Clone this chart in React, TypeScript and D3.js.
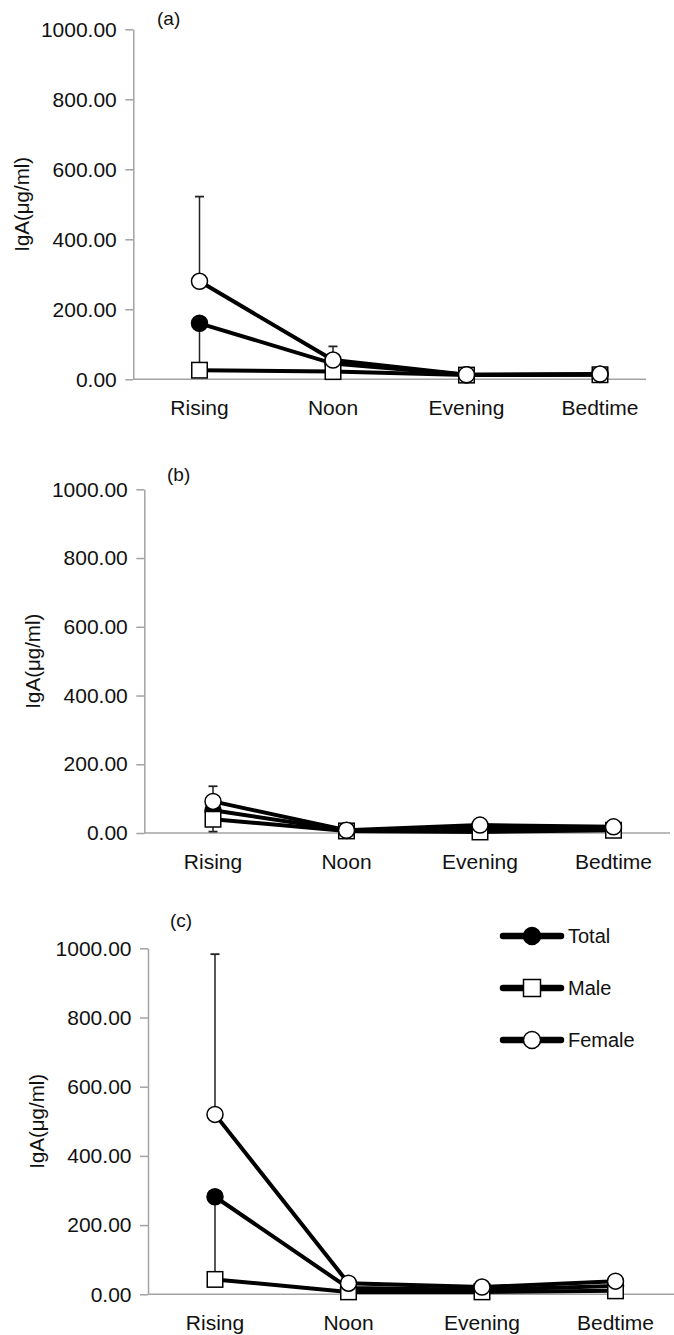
import * as React from "react";
import * as d3 from "d3";

const categories = ["Rising", "Noon", "Evening", "Bedtime"];
const yTicks = [0, 200, 400, 600, 800, 1000];
const seriesNames = ["Total", "Male", "Female"];

// panel (a)
const totalA = [160, 45, 13, 14];
const maleA = [26, 22, 12, 13];
const femaleA = [280, 55, 13, 15];
const errorsA: [string, number, number][] = [
  ["Rising", 280, 522],
  ["Rising", 26, 160],
  ["Noon", 55, 94],
];

// panel (b)
const totalB = [66, 7, 13, 13];
const maleB = [40, 6, 3, 8];
const femaleB = [92, 8, 23, 18];
const errorsB: [string, number, number][] = [
  ["Rising", 92, 136],
  ["Rising", 40, 4],
];

// panel (c)
const totalC = [282, 18, 13, 24];
const maleC = [43, 7, 7, 10];
const femaleC = [520, 32, 21, 38];
const errorsC: [string, number, number][] = [
  ["Rising", 520, 983],
  ["Rising", 43, 282],
];

const AXIS = "#a3a3a3";
const FONT = "Liberation Sans, Arial, sans-serif";

const panels = [
  { label: "(a)", series: [totalA, maleA, femaleA], errors: errorsA, axisX: 133.3, top: 29.3, bottom: 379.3, firstX: 199.5, axisEnd: 646, labelX: 157, labelY: 25, legend: false },
  { label: "(b)", series: [totalB, maleB, femaleB], errors: errorsB, axisX: 144.3, top: 489.3, bottom: 833, firstX: 213, axisEnd: 670, labelX: 167, labelY: 481, legend: false },
  { label: "(c)", series: [totalC, maleC, femaleC], errors: errorsC, axisX: 148, top: 948.3, bottom: 1294.3, firstX: 215, axisEnd: 674, labelX: 170, labelY: 927, legend: true },
];

function drawMarker(
  g: d3.Selection<SVGGElement, unknown, null, undefined>,
  name: string,
  cx: number,
  cy: number,
  big = false
) {
  if (name === "Male") {
    const s = big ? 17 : 15.5;
    g.append("rect")
      .attr("x", cx - s / 2)
      .attr("y", cy - s / 2)
      .attr("width", s)
      .attr("height", s)
      .attr("fill", "white")
      .attr("stroke", "black")
      .attr("stroke-width", 1.5);
  } else {
    g.append("circle")
      .attr("cx", cx)
      .attr("cy", cy)
      .attr("r", big ? 8.5 : 8)
      .attr("fill", name === "Total" ? "black" : "white")
      .attr("stroke", "black")
      .attr("stroke-width", 1.5);
  }
}

export default function App() {
  const ref = React.useRef<SVGSVGElement | null>(null);

  React.useEffect(() => {
    const svg = d3.select(ref.current);
    svg.selectAll("*").remove();

    panels.forEach((p) => {
      const step = 133.5;
      const x = d3
        .scalePoint<string>()
        .domain(categories)
        .range([p.firstX, p.firstX + step * (categories.length - 1)]);
      const y = d3.scaleLinear([0, 1000], [p.bottom, p.top]);

      const g = svg.append("g");

      // y axis
      const yAxis = d3
        .axisLeft(y)
        .tickValues(yTicks)
        .tickFormat(d3.format(".2f"))
        .tickSize(8)
        .tickSizeOuter(0)
        .tickPadding(8.5);
      const yg = g
        .append("g")
        .attr("transform", `translate(${p.axisX},0)`)
        .call(yAxis);
      yg.selectAll("path").attr("stroke", AXIS).attr("stroke-width", 1.5);
      yg.selectAll("line").attr("stroke", AXIS).attr("stroke-width", 1.5);
      yg.selectAll("text")
        .attr("fill", "#111")
        .style("font-family", FONT)
        .style("font-size", "21px");

      // x axis line
      g.append("line")
        .attr("x1", p.axisX)
        .attr("x2", p.axisEnd)
        .attr("y1", y(0))
        .attr("y2", y(0))
        .attr("stroke", AXIS)
        .attr("stroke-width", 1.5);

      g.selectAll(".cat")
        .data(categories)
        .enter()
        .append("text")
        .attr("x", (d) => x(d)!)
        .attr("y", y(0) + 36)
        .attr("text-anchor", "middle")
        .attr("fill", "#111")
        .style("font-family", FONT)
        .style("font-size", "21px")
        .text((d) => d);

      // axis title
      g.append("text")
        .attr(
          "transform",
          `translate(${p.axisX - 104},${(p.top + p.bottom) / 2}) rotate(-90)`
        )
        .attr("text-anchor", "middle")
        .attr("fill", "#111")
        .style("font-family", FONT)
        .style("font-size", "20.5px")
        .text("IgA(μg/ml)");

      g.append("text")
        .attr("x", p.labelX)
        .attr("y", p.labelY)
        .attr("fill", "#111")
        .style("font-family", FONT)
        .style("font-size", "19px")
        .text(p.label);

      // error bars
      p.errors.forEach(([cat, from, to]) => {
        const cx = x(cat)!;
        g.append("line")
          .attr("x1", cx)
          .attr("x2", cx)
          .attr("y1", y(from))
          .attr("y2", y(to))
          .attr("stroke", "#222")
          .attr("stroke-width", 1.5);
        g.append("line")
          .attr("x1", cx - 4.5)
          .attr("x2", cx + 4.5)
          .attr("y1", y(to))
          .attr("y2", y(to))
          .attr("stroke", "#222")
          .attr("stroke-width", 1.8);
      });

      // lines
      const line = d3
        .line<number>()
        .x((_, i) => x(categories[i])!)
        .y((d) => y(d));
      p.series.forEach((vals) => {
        g.append("path")
          .attr("d", line(vals))
          .attr("fill", "none")
          .attr("stroke", "black")
          .attr("stroke-width", 4);
      });

      // markers
      p.series.forEach((vals, si) => {
        vals.forEach((v, i) => {
          drawMarker(g, seriesNames[si], x(categories[i])!, y(v));
        });
      });

      if (p.legend) {
        const lg = g.append("g");
        seriesNames.forEach((name, i) => {
          const ly = 936 + i * 52;
          lg.append("line")
            .attr("x1", 503)
            .attr("x2", 561)
            .attr("y1", ly)
            .attr("y2", ly)
            .attr("stroke", "black")
            .attr("stroke-width", 6.5)
            .attr("stroke-linecap", "round");
          drawMarker(lg, name, 532, ly, true);
          lg.append("text")
            .attr("x", 568)
            .attr("y", ly + 6.5)
            .attr("fill", "#111")
            .style("font-family", FONT)
            .style("font-size", "20px")
            .text(name);
        });
      }
    });

    return function cleanup() {
      svg.selectAll("*").remove();
    };
  }, []);

  return (
    <svg
      ref={ref}
      width={674}
      height={1335}
      style={{ position: "absolute", left: 0, top: 0, background: "white" }}
    />
  );
}
